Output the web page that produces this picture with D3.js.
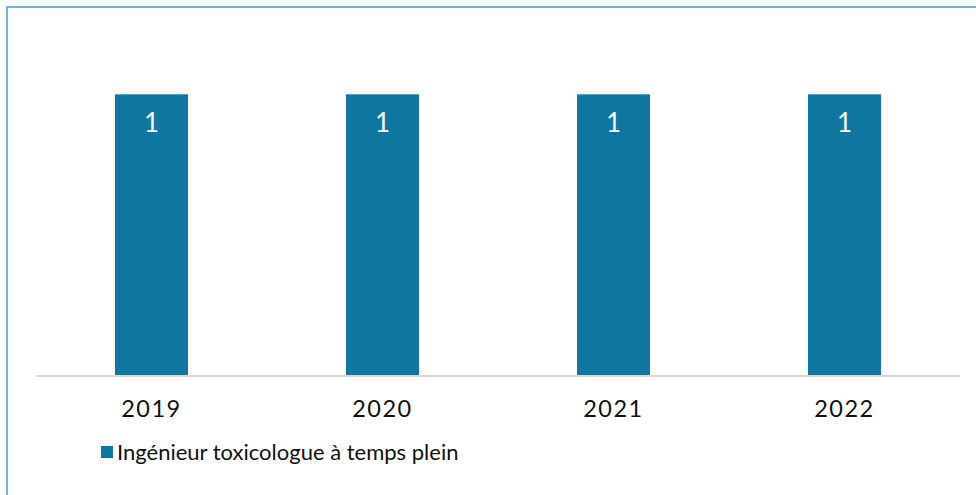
<!DOCTYPE html>
<html>
<head>
<meta charset="utf-8">
<script src="https://cdn.jsdelivr.net/npm/d3@7"></script>
<style>
  html, body { margin: 0; padding: 0; background: #fff; }
  svg { display: block; font-family: "Lato", "Open Sans", sans-serif; }
</style>
</head>
<body>
<svg id="chart" width="976" height="495"></svg>
<script>
// Effectifs par année
const years = ["2019", "2020", "2021", "2022"];
const values = [1, 1, 1, 1];
const seriesName = "Ingénieur toxicologue à temps plein";

const svg = d3.select("#chart");
const W = 976, H = 495;
const color = "#0f76a0";

// Cadre du graphique
svg.append("rect")
  .attr("x", 7).attr("y", 7)
  .attr("width", W).attr("height", H)
  .attr("fill", "none")
  .attr("stroke", "#4a9cc4")
  .attr("stroke-width", 1.5);

const x = d3.scaleBand().domain(years).range([36, 960]).paddingInner(0.684).paddingOuter(0.342);
const y = d3.scaleLinear().domain([0, 1.2]).range([376, 38]);

// Barres
svg.selectAll("rect.bar").data(years).join("rect")
  .attr("class", "bar")
  .attr("x", d => x(d))
  .attr("width", x.bandwidth())
  .attr("y", (d, i) => y(values[i]))
  .attr("height", (d, i) => y(0) - y(values[i]))
  .attr("fill", color);

// Étiquettes de valeur
svg.selectAll("text.val").data(years).join("text")
  .attr("class", "val")
  .attr("x", d => x(d) + x.bandwidth() / 2)
  .attr("y", (d, i) => y(values[i]) + 38)
  .attr("text-anchor", "middle")
  .attr("fill", "#fff")
  .attr("font-size", 26)
  .text((d, i) => values[i]);

// Axe horizontal
svg.append("line")
  .attr("x1", 36).attr("x2", 960)
  .attr("y1", 376).attr("y2", 376)
  .attr("stroke", "#d9d9d9").attr("stroke-width", 2);

const xAxis = d3.axisBottom(x).tickSize(0).tickPadding(0);
const gx = svg.append("g").attr("transform", "translate(0,376)").call(xAxis);
gx.select(".domain").remove();
gx.selectAll("text")
  .attr("y", 41)
  .attr("dy", 0)
  .attr("font-size", 23.5)
  .attr("font-family", "Lato, sans-serif")
  .attr("fill", "#111")
  .style("letter-spacing", "1.5px");

// Légende
const lg = svg.append("g").attr("transform", "translate(101,446)");
lg.append("rect").attr("width", 12).attr("height", 12).attr("fill", color);
lg.append("text")
  .attr("x", 16).attr("y", 14)
  .attr("font-size", 22)
  .attr("fill", "#111")
  .text(seriesName);
</script>
</body>
</html>
